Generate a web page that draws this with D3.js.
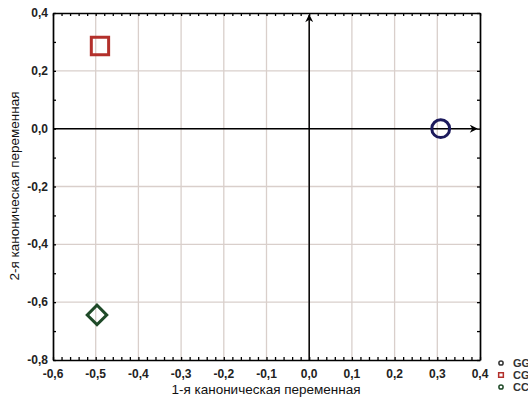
<!DOCTYPE html>
<html lang="ru">
    <head>
        <meta charset="utf-8">
        <title>Канонические переменные</title>
        <script type="text/javascript" src="https://cdn.jsdelivr.net/npm/d3@7"></script>
        <style>
            body { margin: 0; background: #fff; }
            text { font-family: "Liberation Sans", Arial, sans-serif; }
        </style>
    </head>
    <body>
        <script type="text/javascript">
            // data
            var groups = ["GG", "CG", "CC"];
            var canon1 = [0.308, -0.49, -0.497];
            var canon2 = [0.0, 0.286, -0.644];
            var symbols = ["circle", "square", "diamond"];
            var colors = ["#1c1a5c", "#b3302b", "#1f4a28"];
            var xTicks = [-0.6, -0.5, -0.4, -0.3, -0.2, -0.1, 0.0, 0.1, 0.2, 0.3, 0.4];
            var yTicks = [-0.8, -0.6, -0.4, -0.2, 0.0, 0.2, 0.4];

            var w = 528;
            var h = 400;
            // note: "top" is taken by window.top, so use other names
            var plotL = 53, plotR = 480, plotT = 13, plotB = 360;

            var svg = d3.select("body").append("svg").attr("width", w).attr("height", h);

            var x = d3.scaleLinear().domain([-0.6, 0.4]).range([plotL, plotR]);
            var y = d3.scaleLinear().domain([-0.8, 0.4]).range([plotB, plotT]);
            var fmt = function(d) { return d3.format(".1f")(d).replace(".", ",").replace("−", "-"); };

            // grid lines
            svg.append("g").selectAll("line")
                .data(xTicks.slice(1, -1))
                .enter().append("line")
                .attr("x1", function(d) { return x(d); })
                .attr("x2", function(d) { return x(d); })
                .attr("y1", plotT).attr("y2", plotB)
                .attr("stroke", "#d9cfcb").attr("stroke-width", 1.3);
            svg.append("g").selectAll("line")
                .data(yTicks.slice(1, -1))
                .enter().append("line")
                .attr("y1", function(d) { return y(d); })
                .attr("y2", function(d) { return y(d); })
                .attr("x1", plotL).attr("x2", plotR)
                .attr("stroke", "#d9cfcb").attr("stroke-width", 1.3);

            // frame axes with inward ticks
            function frame(g) {
                g.select(".domain").attr("stroke-width", 1.7);
                g.selectAll(".tick line").attr("stroke-width", 1.3);
            }
            svg.append("g").attr("transform", "translate(0," + plotT + ")")
                .call(d3.axisBottom(x).ticks(40).tickSize(3).tickSizeOuter(0).tickFormat(""))
                .call(frame);
            svg.append("g").attr("transform", "translate(0," + plotB + ")")
                .call(d3.axisTop(x).ticks(40).tickSize(3).tickSizeOuter(0).tickFormat(""))
                .call(frame);
            svg.append("g").attr("transform", "translate(" + plotL + ",0)")
                .call(d3.axisRight(y).ticks(12).tickSize(3).tickSizeOuter(0).tickFormat(""))
                .call(frame);
            svg.append("g").attr("transform", "translate(" + plotR + ",0)")
                .call(d3.axisLeft(y).ticks(12).tickSize(3).tickSizeOuter(0).tickFormat(""))
                .call(frame);

            // tick labels
            svg.append("g").selectAll("text")
                .data(xTicks)
                .enter().append("text")
                .attr("x", function(d) { return x(d); })
                .attr("y", plotB + 18)
                .attr("text-anchor", "middle")
                .attr("font-size", "12px").attr("font-weight", "bold").attr("fill", "#222")
                .text(fmt);
            svg.append("g").selectAll("text")
                .data(yTicks)
                .enter().append("text")
                .attr("x", plotL - 5)
                .attr("y", function(d) { return y(d) + 4; })
                .attr("text-anchor", "end")
                .attr("font-size", "12px").attr("font-weight", "bold").attr("fill", "#222")
                .text(fmt);

            // axis titles
            svg.append("text")
                .attr("x", 266).attr("y", 394)
                .attr("text-anchor", "middle")
                .attr("font-size", "13.5px").attr("fill", "#111")
                .text("1-я каноническая переменная");
            svg.append("text")
                .attr("transform", "translate(19,186) rotate(-90)")
                .attr("text-anchor", "middle")
                .attr("font-size", "13.5px").attr("fill", "#111")
                .text("2-я каноническая переменная");

            // zero axes with arrows
            svg.append("defs").append("marker")
                .attr("id", "arrow").attr("viewBox", "0 0 10 10")
                .attr("refX", 9).attr("refY", 5)
                .attr("markerWidth", 10).attr("markerHeight", 8)
                .attr("markerUnits", "userSpaceOnUse")
                .attr("orient", "auto")
                .append("path").attr("d", "M0,0 L10,5 L0,10 L3,5 Z").attr("fill", "#000");
            svg.append("line")
                .attr("x1", x(0)).attr("x2", x(0))
                .attr("y1", plotB).attr("y2", plotT + 2)
                .attr("stroke", "#000").attr("stroke-width", 1.5)
                .attr("marker-end", "url(#arrow)");
            svg.append("line")
                .attr("x1", plotL).attr("x2", plotR - 3)
                .attr("y1", y(0)).attr("y2", y(0))
                .attr("stroke", "#000").attr("stroke-width", 1.5)
                .attr("marker-end", "url(#arrow)");

            // group centroids
            var sym = {
                circle: d3.symbol().type(d3.symbolCircle).size(250),
                square: d3.symbol().type(d3.symbolSquare).size(300),
                diamond: d3.symbol().type(d3.symbolSquare).size(190)
            };
            svg.append("g").selectAll("path")
                .data(groups)
                .enter().append("path")
                .attr("d", function(d, i) { return sym[symbols[i]](); })
                .attr("transform", function(d, i) {
                    return "translate(" + x(canon1[i]) + "," + y(canon2[i]) + ")" +
                        (symbols[i] === "diamond" ? " rotate(45)" : "");
                })
                .attr("fill", "none")
                .attr("stroke", function(d, i) { return colors[i]; })
                .attr("stroke-width", 3);

            // legend (runs off the right edge)
            var leg = svg.append("g").selectAll("g")
                .data(groups)
                .enter().append("g")
                .attr("transform", function(d, i) { return "translate(501," + (363 + i * 12) + ")"; });
            leg.append("path")
                .attr("d", function(d, i) {
                    return i === 1 ? d3.symbol().type(d3.symbolSquare).size(22)()
                        : d3.symbol().type(d3.symbolCircle).size(14)();
                })
                .attr("fill", "none")
                .attr("stroke", function(d, i) { return i === 0 ? "#333" : colors[i]; })
                .attr("stroke-width", 1.5);
            leg.append("text")
                .attr("x", 12).attr("y", 4)
                .attr("font-size", "11px").attr("font-weight", "bold").attr("fill", "#333")
                .text(function(d) { return d; });
        </script>
    </body>
</html>
